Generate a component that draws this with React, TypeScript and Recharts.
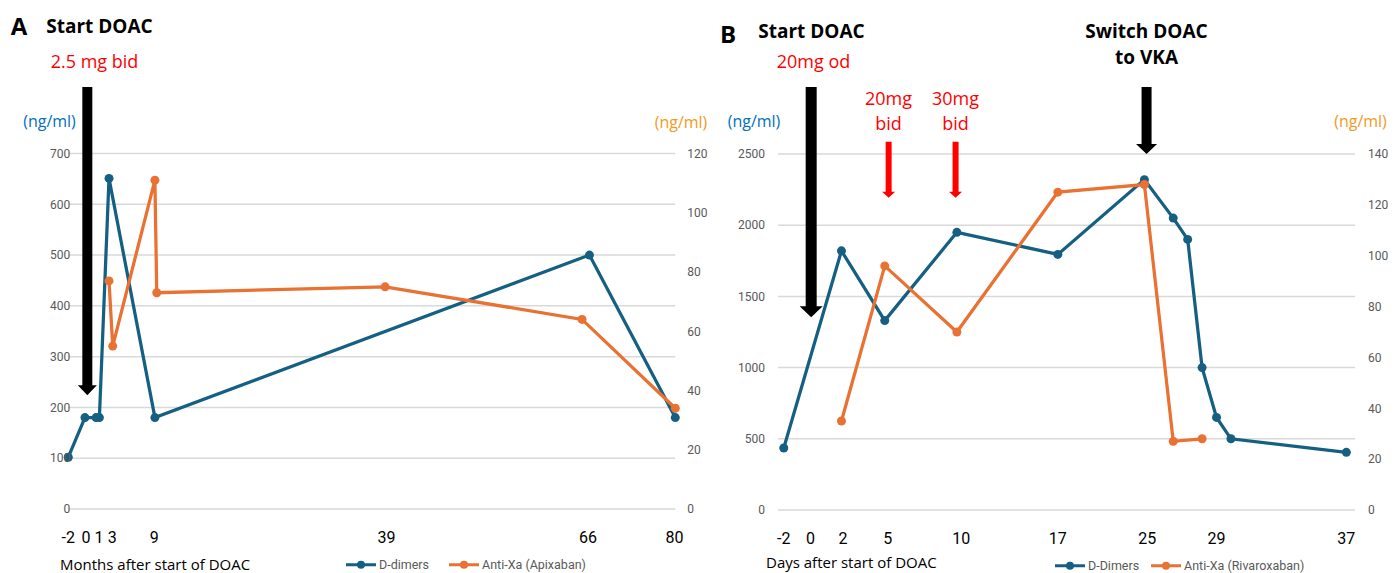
import React from 'react'
import { LineChart, Line, XAxis, YAxis, CartesianGrid, ReferenceLine } from 'recharts'

const DIMER_COLOR = '#156082'
const XA_COLOR = '#E97132'
const BLUE_TEXT = '#0070C0'
const ORANGE_TEXT = '#F39A1E'
const RED = '#FF0000'

// Panel A: months after start of DOAC
const monthsDimers = [-2, 0.25, 1.75, 2.2, 3.5, 9.7, 68.4, 80]
const dimersA = [102, 180, 180, 180, 651, 180, 500, 180]
const monthsXa = [3.5, 4, 9.7, 9.95, 40.8, 67.4, 80]
const apixaban = [77, 55, 111, 73, 75, 64, 34]
const monthTicks = [-2, 0.4, 2.15, 3.95, 9.6, 41, 68.2, 79.9]
const monthLabels = ['-2', '0', '1', '3', '9', '39', '66', '80']
const leftTicksA = [0, 100, 200, 300, 400, 500, 600, 700]
const rightTicksA = [0, 20, 40, 60, 80, 100, 120]

// Panel B: days after start of DOAC
const daysDimers = [-2, 2, 5, 10, 17, 23, 25, 26, 27, 28, 29, 37]
const dimersB = [435, 1820, 1330, 1950, 1795, 2320, 2050, 1900, 1000, 650, 500, 405]
const daysXa = [2, 5, 10, 17, 23, 25, 27]
const rivaroxaban = [35, 96, 70, 125, 128, 27, 28]
const dayTicks = [-2, -0.15, 2.1, 5.2, 10.3, 17, 23.2, 28, 37]
const dayLabels = ['-2', '0', '2', '5', '10', '17', '25', '29', '37']
const leftTicksB = [0, 500, 1000, 1500, 2000, 2500]
const rightTicksB = [0, 20, 40, 60, 80, 100, 120, 140]

const zip = (xs: number[], ys: number[]) => xs.map((x, i) => ({ x, v: ys[i] }))

const tickStyle = { fill: '#595959', fontSize: 12, fontFamily: 'Roboto' }

function makeXTick(ticks: number[], labels: string[]) {
  return (props: any) => {
    const { x, y, payload } = props
    const i = ticks.indexOf(payload.value)
    return (
      <text x={x} y={y + 26} textAnchor="middle" dominantBaseline="central"
        fontFamily="Roboto" fontSize={16} fill="#000">
        {labels[i]}
      </text>
    )
  }
}

function makeArrow(shaft: number, headW: number, headH: number, color: string) {
  return (props: any) => {
    const { x1, y1, y2 } = props
    const top = Math.min(y1, y2)
    const tip = Math.max(y1, y2)
    const neck = tip - headH
    const pts = [
      [x1 - shaft / 2, top], [x1 + shaft / 2, top], [x1 + shaft / 2, neck],
      [x1 + headW / 2, neck], [x1, tip], [x1 - headW / 2, neck], [x1 - shaft / 2, neck],
    ].map(p => p.join(',')).join(' ')
    return <polygon points={pts} fill={color} />
  }
}

function Note({ x, y, text, color = '#000', size = 18, bold = false, align = 'center' }: any) {
  return (
    <div style={{
      position: 'absolute', left: x, top: y, whiteSpace: 'nowrap',
      transform: align === 'center' ? 'translate(-50%, -50%)' : 'translate(0, -50%)',
      color, fontSize: size, fontWeight: bold ? 700 : 400, fontFamily: '"Open Sans"', lineHeight: 1,
    }}>{text}</div>
  )
}

function LegendItem({ x, y, label, color }: any) {
  return (
    <div style={{ position: 'absolute', left: x, top: y, transform: 'translateY(-50%)', display: 'flex', alignItems: 'center', lineHeight: 1 }}>
      <svg width={30} height={10}>
        <line x1={0} y1={5} x2={30} y2={5} stroke={color} strokeWidth={3} />
        <circle cx={15} cy={5} r={4} fill={color} />
      </svg>
      <span style={{ marginLeft: 3, fontFamily: 'Roboto', fontSize: 12.5, color: '#595959', lineHeight: 1 }}>{label}</span>
    </div>
  )
}

function PanelA() {
  return (
    <LineChart width={720} height={573} margin={{ top: 153.5, right: 4.7, bottom: 34, left: 8.3 }}>
      <CartesianGrid yAxisId="left" vertical={false} stroke="#d9d9d9" strokeWidth={1.5} />
      <XAxis dataKey="x" type="number" domain={[-2, 80]} ticks={monthTicks} interval={0}
        axisLine={false} tickLine={false} tickSize={0} height={30} tick={makeXTick(monthTicks, monthLabels)} />
      <YAxis yAxisId="left" domain={[0, 700]} ticks={leftTicksA} interval={0} width={60}
        axisLine={false} tickLine={false} tickSize={0} tickMargin={-2} tick={tickStyle} />
      <YAxis yAxisId="right" orientation="right" domain={[0, 120]} ticks={rightTicksA} interval={0} width={40}
        axisLine={false} tickLine={false} tickSize={0} tickMargin={12} tick={{ ...tickStyle, textAnchor: 'start' }} />
      <ReferenceLine yAxisId="left" ifOverflow="visible"
        segment={[{ x: 0.57, y: 831 }, { x: 0.57, y: 224 }]} shape={makeArrow(10, 19, 10, '#000')} />
      <Line data={zip(monthsDimers, dimersA)} dataKey="v" yAxisId="left" name="D-dimers"
        stroke={DIMER_COLOR} strokeWidth={3.25} dot={{ r: 4.5, fill: DIMER_COLOR, stroke: DIMER_COLOR, strokeWidth: 0 }}
        activeDot={false} isAnimationActive={false} />
      <Line data={zip(monthsXa, apixaban)} dataKey="v" yAxisId="right" name="Anti-Xa (Apixaban)"
        stroke={XA_COLOR} strokeWidth={3.25} dot={{ r: 4.5, fill: XA_COLOR, stroke: XA_COLOR, strokeWidth: 0 }}
        activeDot={false} isAnimationActive={false} />
    </LineChart>
  )
}

function PanelB() {
  return (
    <LineChart width={697} height={573} margin={{ top: 154, right: 2, bottom: 33, left: 18 }}>
      <CartesianGrid yAxisId="left" vertical={false} stroke="#d9d9d9" strokeWidth={1.5} />
      <XAxis dataKey="x" type="number" domain={[-2.4, 37.6]} ticks={dayTicks} interval={0}
        axisLine={false} tickLine={false} tickSize={0} height={30} tick={makeXTick(dayTicks, dayLabels)} />
      <YAxis yAxisId="left" domain={[0, 2500]} ticks={leftTicksB} interval={0} width={60}
        axisLine={false} tickLine={false} tickSize={0} tickMargin={13} tick={tickStyle} />
      <YAxis yAxisId="right" orientation="right" domain={[0, 140]} ticks={rightTicksB} interval={0} width={40}
        axisLine={false} tickLine={false} tickSize={0} tickMargin={13} tick={{ ...tickStyle, textAnchor: 'start' }} />
      <ReferenceLine yAxisId="left" ifOverflow="visible"
        segment={[{ x: -0.1, y: 2970 }, { x: -0.1, y: 1353 }]} shape={makeArrow(11, 23, 11, '#000')} />
      <ReferenceLine yAxisId="left" ifOverflow="visible"
        segment={[{ x: 23.15, y: 2970 }, { x: 23.15, y: 2500 }]} shape={makeArrow(10, 21, 10, '#000')} />
      <ReferenceLine yAxisId="left" ifOverflow="visible"
        segment={[{ x: 5.27, y: 2586 }, { x: 5.27, y: 2193 }]} shape={makeArrow(6, 13, 6, RED)} />
      <ReferenceLine yAxisId="left" ifOverflow="visible"
        segment={[{ x: 9.91, y: 2586 }, { x: 9.91, y: 2193 }]} shape={makeArrow(6, 13, 6, RED)} />
      <Line data={zip(daysDimers, dimersB)} dataKey="v" yAxisId="left" name="D-Dimers"
        stroke={DIMER_COLOR} strokeWidth={3.25} dot={{ r: 4.5, fill: DIMER_COLOR, stroke: DIMER_COLOR, strokeWidth: 0 }}
        activeDot={false} isAnimationActive={false} />
      <Line data={zip(daysXa, rivaroxaban)} dataKey="v" yAxisId="right" name="Anti-Xa (Rivaroxaban)"
        stroke={XA_COLOR} strokeWidth={3.25} dot={{ r: 4.5, fill: XA_COLOR, stroke: XA_COLOR, strokeWidth: 0 }}
        activeDot={false} isAnimationActive={false} />
    </LineChart>
  )
}

export default function App() {
  return (
    <div style={{ position: 'absolute', left: 0, top: 0, width: 1397, height: 573, background: '#fff', overflow: 'hidden' }}>
      <div style={{ position: 'absolute', left: 0, top: 0 }}><PanelA /></div>
      <div style={{ position: 'absolute', left: 700, top: 0 }}><PanelB /></div>

      <Note x={19} y={26} text="A" size={24} bold />
      <Note x={99.5} y={25.5} text="Start DOAC" size={19} bold />
      <Note x={94.5} y={60.5} text="2.5 mg bid" color={RED} />
      <Note x={49.5} y={121} text="(ng/ml)" color={BLUE_TEXT} size={16} />
      <Note x={681} y={122} text="(ng/ml)" color={ORANGE_TEXT} size={16} />
      <Note x={60} y={564} text="Months after start of DOAC" size={15} align="left" />
      <LegendItem x={346} y={565} label="D-dimers" color={DIMER_COLOR} />
      <LegendItem x={449} y={565} label="Anti-Xa (Apixaban)" color={XA_COLOR} />

      <Note x={728} y={34} text="B" size={24} bold />
      <Note x={811.5} y={31} text="Start DOAC" size={19} bold />
      <Note x={813.5} y={60.5} text="20mg od" color={RED} />
      <Note x={888.5} y={98} text="20mg" color={RED} />
      <Note x={888.5} y={123} text="bid" color={RED} />
      <Note x={955.5} y={98} text="30mg" color={RED} />
      <Note x={955.5} y={123} text="bid" color={RED} />
      <Note x={1146.5} y={31} text="Switch DOAC" size={19} bold />
      <Note x={1146.5} y={57} text="to VKA" size={19} bold />
      <Note x={754} y={121} text="(ng/ml)" color={BLUE_TEXT} size={16} />
      <Note x={1360.5} y={121} text="(ng/ml)" color={ORANGE_TEXT} size={16} />
      <Note x={766} y={562} text="Days after start of DOAC" size={15} align="left" />
      <LegendItem x={1055} y={566} label="D-Dimers" color={DIMER_COLOR} />
      <LegendItem x={1151} y={566} label="Anti-Xa (Rivaroxaban)" color={XA_COLOR} />
    </div>
  )
}
